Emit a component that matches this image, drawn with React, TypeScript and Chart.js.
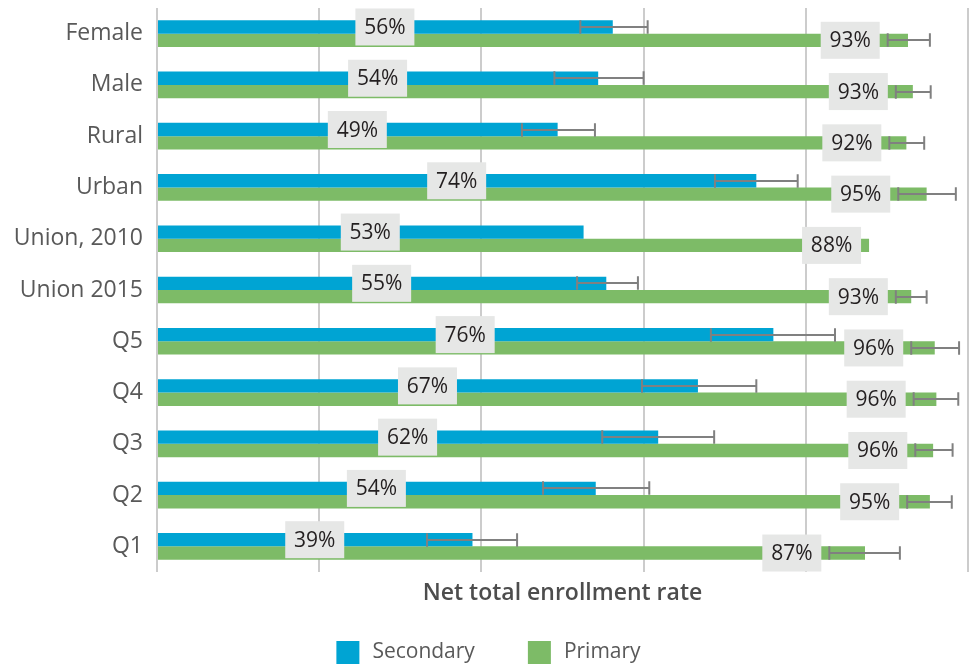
import React, { useEffect, useRef } from 'react';
import { Chart, registerables } from 'chart.js';

Chart.register(...registerables);

const categories = ['Female', 'Male', 'Rural', 'Urban', 'Union, 2010', 'Union 2015', 'Q5', 'Q4', 'Q3', 'Q2', 'Q1'];
const secondary = [56.2, 54.4, 49.4, 73.9, 52.6, 55.4, 76.0, 66.7, 61.8, 54.1, 38.9];
const primary = [92.6, 93.2, 92.4, 94.9, 87.8, 93.0, 95.9, 96.1, 95.7, 95.3, 87.3];
const secondaryLow = [52.2, 49.0, 45.0, 68.8, null, 51.8, 68.3, 59.8, 54.9, 47.6, 33.3];
const secondaryHigh = [60.5, 60.0, 54.0, 79.0, null, 59.3, 83.6, 73.9, 68.7, 60.7, 44.4];
const primaryLow = [90.1, 91.1, 90.3, 91.4, null, 91.1, 93.0, 93.3, 93.5, 92.5, 82.9];
const primaryHigh = [95.3, 95.4, 94.6, 98.5, null, 94.9, 98.9, 98.8, 98.1, 98.0, 91.6];
const seriesNames = ['Secondary', 'Primary'];
const seriesColors = ['#00A4D3', '#7DBB67'];
const axisTitle = 'Net total enrollment rate';
const xTicks = [0, 20, 40, 60, 80, 100];

const FONT = '"Open Sans", sans-serif';

export default function App() {
  const ref = useRef<HTMLCanvasElement>(null);

  useEffect(() => {
    if (!ref.current) return;

    const errorPlugin = {
      id: 'errorBars',
      afterDatasetsDraw(chart: any) {
        const ctx = chart.ctx;
        const xs = chart.scales.x;
        const sets: any[] = [[secondaryLow, secondaryHigh], [primaryLow, primaryHigh]];
        ctx.save();
        ctx.strokeStyle = '#808080';
        ctx.lineWidth = 2;
        sets.forEach(([lo, hi], di) => {
          const meta = chart.getDatasetMeta(di);
          meta.data.forEach((bar: any, i: number) => {
            if (lo[i] == null || hi[i] == null) return;
            const y = Math.round(bar.y);
            const h = bar.height;
            const x1 = xs.getPixelForValue(lo[i]);
            const x2 = xs.getPixelForValue(hi[i]);
            ctx.beginPath();
            ctx.moveTo(x1, y);
            ctx.lineTo(x2, y);
            ctx.moveTo(x1, y - h / 2);
            ctx.lineTo(x1, y + h / 2);
            ctx.moveTo(x2, y - h / 2);
            ctx.lineTo(x2, y + h / 2);
            ctx.stroke();
          });
        });
        ctx.restore();
      },
    };

    const labelPlugin = {
      id: 'valueLabels',
      afterDatasetsDraw(chart: any) {
        const ctx = chart.ctx;
        const xs = chart.scales.x;
        const boxW = 59;
        const boxH = 37;
        ctx.save();
        ctx.font = '500 21px ' + FONT;
        ctx.textAlign = 'center';
        ctx.textBaseline = 'middle';
        const vals = [secondary, primary];
        const lows = [secondaryLow, primaryLow];
        [0, 1].forEach((di) => {
          const meta = chart.getDatasetMeta(di);
          meta.data.forEach((bar: any, i: number) => {
            const v = vals[di][i];
            let cx: number;
            if (di === 0) {
              cx = (xs.getPixelForValue(0) + bar.x) / 2;
            } else {
              const anchor = lows[di][i] != null ? (lows[di][i] as number) : v;
              cx = xs.getPixelForValue(anchor) - 8 - boxW / 2;
            }
            const cy = bar.y;
            ctx.fillStyle = '#E6E7E6';
            ctx.fillRect(cx - boxW / 2, cy - boxH / 2, boxW, boxH);
            ctx.fillStyle = '#231F20';
            ctx.fillText(Math.round(v) + '%', cx, cy + 1);
          });
        });
        ctx.restore();
      },
    };

    const legendPlugin = {
      id: 'customLegend',
      afterDraw(chart: any) {
        const ctx = chart.ctx;
        const box = 23;
        const gapText = 13;
        const gapItems = 53;
        ctx.save();
        ctx.font = '21px ' + FONT;
        const widths = chart.data.datasets.map((d: any) => box + gapText + ctx.measureText(d.label).width);
        const total = widths.reduce((a: number, b: number) => a + b, 0) + gapItems * (widths.length - 1);
        let x = chart.width / 2 + 4 - total / 2;
        const top = chart.height - 23;
        chart.data.datasets.forEach((d: any, i: number) => {
          ctx.fillStyle = d.backgroundColor;
          ctx.fillRect(x, top, box, box);
          ctx.fillStyle = '#595959';
          ctx.textAlign = 'left';
          ctx.textBaseline = 'middle';
          ctx.fillText(d.label, x + box + gapText, top + box / 2);
          x += widths[i] + gapItems;
        });
        ctx.restore();
      },
    };

    const chart = new Chart(ref.current, {
      type: 'bar',
      data: {
        labels: categories,
        datasets: [
          { label: seriesNames[0], data: secondary, backgroundColor: seriesColors[0], categoryPercentage: 0.52, barPercentage: 1 },
          { label: seriesNames[1], data: primary, backgroundColor: seriesColors[1], categoryPercentage: 0.52, barPercentage: 1 },
        ],
      },
      options: {
        indexAxis: 'y',
        animation: false,
        responsive: true,
        maintainAspectRatio: false,
        layout: { padding: { top: 8, left: 0, right: 1, bottom: 54 } },
        plugins: {
          legend: { display: false },
          tooltip: { enabled: false },
        },
        scales: {
          x: {
            min: 0,
            max: 100,
            afterBuildTicks: (scale: any) => {
              scale.ticks = xTicks.map((v) => ({ value: v }));
            },
            afterFit: (scale: any) => {
              scale.height = 38;
              scale.paddingLeft = 0;
              scale.paddingRight = 0;
            },
            ticks: { display: false },
            grid: { color: '#CCCCCC', lineWidth: 2, drawTicks: false },
            border: { display: false },
            title: {
              display: true,
              text: axisTitle,
              color: '#4D4D4D',
              font: { family: FONT, size: 23, weight: '600' },
              padding: { top: 0, bottom: 3 },
            },
          },
          y: {
            afterFit: (scale: any) => {
              scale.width = 157;
              scale.paddingTop = 0;
              scale.paddingBottom = 0;
            },
            grid: { display: false, drawTicks: false },
            border: { display: false },
            ticks: {
              color: '#595959',
              font: { family: FONT, size: 23 },
              padding: 14,
            },
          },
        },
      },
      plugins: [errorPlugin, labelPlugin, legendPlugin],
    });

    return () => chart.destroy();
  }, []);

  return (
    <div style={{ position: 'fixed', left: 0, top: 0, width: 969, height: 664, background: '#fff' }}>
      <canvas ref={ref} />
    </div>
  );
}
